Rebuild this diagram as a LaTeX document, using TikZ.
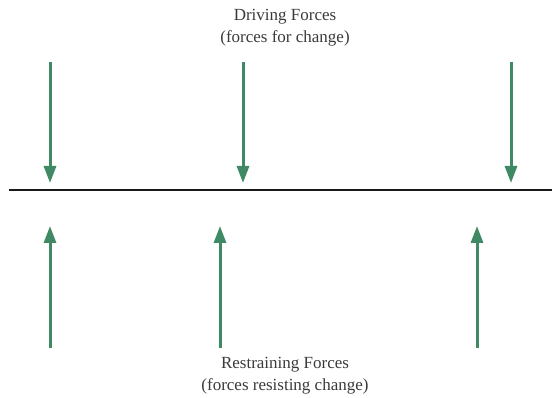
\documentclass[tikz,border=0pt]{standalone}
\usepackage{fontspec}
\setmainfont{Liberation Serif}
\usetikzlibrary{arrows.meta}
\definecolor{fgreen}{HTML}{3F8A64}
\definecolor{txt}{HTML}{3A3A3A}
\tikzset{
  force/.style={draw=fgreen, line width=3pt, -{Triangle[length=17pt,width=12pt]}, fgreen},
  lbl/.style={text=txt, font=\fontsize{17}{22}\selectfont, align=center, inner sep=0pt}
}
\begin{document}
\begin{tikzpicture}[x=1pt,y=-1pt]
\useasboundingbox (0,0) rectangle (552,398);
\draw[line width=2.8pt, color=black!90] (9,190) coordinate (L0) -- (552,190) coordinate (L1);
\node[lbl] (drv) at (285,28) {Driving Forces\\(forces for change)};
\node[lbl] (rst) at (285,376) {Restraining Forces\\(forces resisting change)};
\foreach \n/\x in {a/50,b/243,c/511}{
  \coordinate (d\n s) at (\x,62);
  \coordinate (d\n e) at (\x,183);
  \draw[force] (d\n s) -- (d\n e);
}
\foreach \n/\x in {a/50,b/220,c/477}{
  \coordinate (u\n s) at (\x,348);
  \coordinate (u\n e) at (\x,226);
  \draw[force] (u\n s) -- (u\n e);
}
\end{tikzpicture}
\end{document}
